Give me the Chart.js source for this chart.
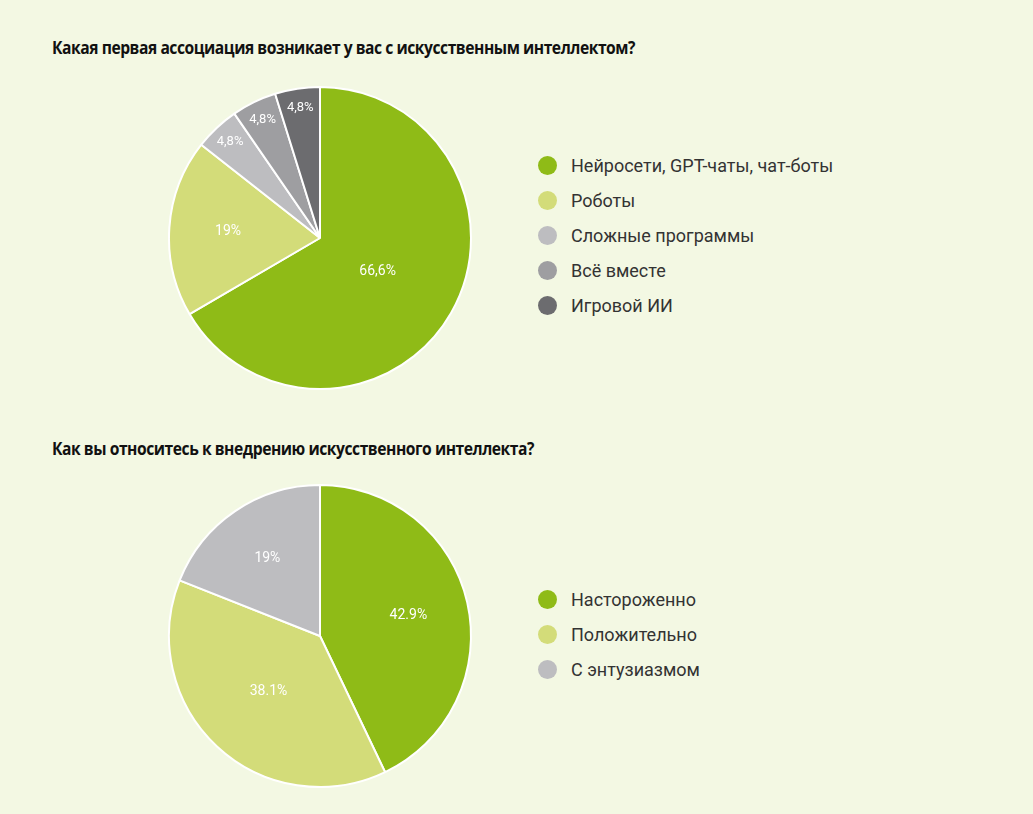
<!DOCTYPE html>
<html>
<head>
<meta charset="utf-8">
<script src="https://cdn.jsdelivr.net/npm/chart.js@4/dist/chart.umd.min.js"></script>
<style>
  body { margin: 0; background: #fff; }
  #page { position: relative; width: 1033px; height: 814px; background: #f3f8e3; font-family: Roboto, "Liberation Sans", sans-serif; overflow: hidden; }
  .title { position: absolute; left: 52px; font-family: "Open Sans", sans-serif; font-weight: 700; font-size: 17px; color: #111; letter-spacing: -0.5px; transform: scaleX(0.92); transform-origin: left; }
  .pie { position: absolute; width: 308px; height: 308px; }
  .legend { position: absolute; left: 538px; font-size: 18px; color: #333; }
  .legend div { height: 35px; display: flex; align-items: center; }
  .legend span.dot { display: inline-block; width: 19px; height: 19px; border-radius: 50%; margin-right: 14px; }
</style>
</head>
<body>
<div id="page">
  <div class="title" style="top:36px">Какая первая ассоциация возникает у вас с искусственным интеллектом?</div>
  <div class="pie" style="left:166px; top:84px"><canvas id="pie1"></canvas></div>
  <div class="legend" id="legend1" style="top:148px"></div>

  <div class="title" style="top:437px">Как вы относитесь к внедрению искусственного интеллекта?</div>
  <div class="pie" style="left:166px; top:482px"><canvas id="pie2"></canvas></div>
  <div class="legend" id="legend2" style="top:582px"></div>
</div>
<script>
// Chart 1: first association with AI
const categories1 = ['Нейросети, GPT-чаты, чат-боты', 'Роботы', 'Сложные программы', 'Всё вместе', 'Игровой ИИ'];
const values1 = [66.6, 19, 4.8, 4.8, 4.8];
const labels1 = ['66,6%', '19%', '4,8%', '4,8%', '4,8%'];
const colors1 = ['#8fbb17', '#d3dc79', '#bdbdc0', '#9e9ea1', '#6c6c6f'];

// Chart 2: attitude to AI adoption
const categories2 = ['Настороженно', 'Положительно', 'С энтузиазмом'];
const values2 = [42.9, 38.1, 19];
const labels2 = ['42.9%', '38.1%', '19%'];
const colors2 = ['#8fbb17', '#d3dc79', '#bdbdc0'];

const sliceLabels = {
    id: 'sliceLabels',
    afterDatasetsDraw(chart, args, opts) {
        const ctx = chart.ctx;
        const meta = chart.getDatasetMeta(0);
        ctx.save();
        ctx.fillStyle = '#fff';
        ctx.textAlign = 'center';
        ctx.textBaseline = 'middle';
        meta.data.forEach((arc, i) => {
            const v = chart.data.datasets[0].data[i];
            const f = v < 10 ? 0.87 : (opts.frac[i] || 0.5);
            const mid = (arc.startAngle + arc.endAngle) / 2;
            const x = arc.x + Math.cos(mid) * arc.outerRadius * f;
            const y = arc.y + Math.sin(mid) * arc.outerRadius * f;
            ctx.font = (v < 10 ? 13 : 14) + 'px Roboto, sans-serif';
            ctx.fillText(opts.labels[i], x, y);
        });
        ctx.restore();
    }
};

function makePie(id, values, colors, labels, frac) {
    new Chart(document.getElementById(id), {
        type: 'pie',
        data: { labels: labels, datasets: [{ data: values, backgroundColor: colors, borderColor: '#fff', borderWidth: 2 }] },
        options: {
            responsive: true, maintainAspectRatio: false, animation: false,
            layout: { padding: 2 },
            plugins: { legend: { display: false }, tooltip: { enabled: false }, sliceLabels: { labels: labels, frac: frac } }
        },
        plugins: [sliceLabels]
    });
}

function makeLegend(id, categories, colors) {
    const el = document.getElementById(id);
    categories.forEach((c, i) => {
        const row = document.createElement('div');
        row.innerHTML = '<span class="dot" style="background:' + colors[i] + '"></span>' + c;
        el.appendChild(row);
    });
}

makePie('pie1', values1, colors1, labels1, [0.44, 0.61]);
makePie('pie2', values2, colors2, labels2, [0.6, 0.5, 0.62]);
makeLegend('legend1', categories1, colors1);
makeLegend('legend2', categories2, colors2);
</script>
</body>
</html>
